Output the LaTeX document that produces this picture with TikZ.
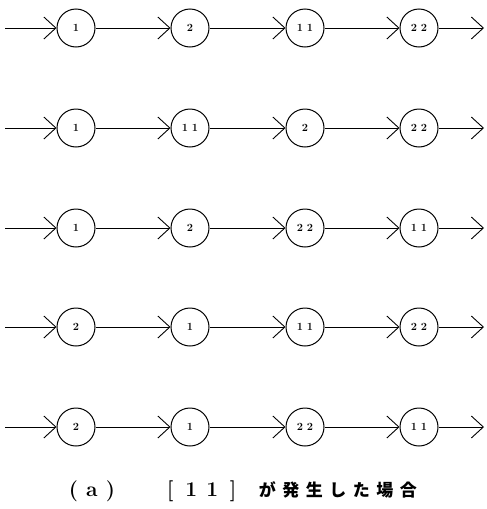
\documentclass[tikz,border=0pt]{standalone}
\usepackage{fontspec}
\newfontfamily\cjk{Noto Sans CJK JP}
\usetikzlibrary{arrows.meta}
\newcommand\cha[1]{\makebox[18.5pt]{#1}}
\newcommand\chb[1]{\makebox[21pt]{#1}}
\newcommand\chc[1]{\makebox[23.5pt]{\cjk\fontsize{17}{17}\selectfont #1}}
\begin{document}
\begin{tikzpicture}[x=1pt,y=-1pt,
  st/.style={circle,draw,line width=1pt,minimum size=38pt,inner sep=0pt,font=\bfseries\fontsize{11}{11}\selectfont},
  ar/.style={line width=0.9pt,-{Straight Barb[length=12pt,width=22pt,line width=0.9pt]}}]
\useasboundingbox (0,0) rectangle (487,509);
\foreach \r/\y/\a/\b/\c/\d in {1/28/1/2/1\,\,1/2\,\,2, 2/128/1/1\,\,1/2/2\,\,2, 3/228/1/2/2\,\,2/1\,\,1, 4/327/2/1/1\,\,1/2\,\,2, 5/427/2/1/2\,\,2/1\,\,1}{
  \coordinate (s\r) at (5,\y);
  \node[st] (n\r a) at (76,\y) {\a};
  \node[st] (n\r b) at (190,\y) {\b};
  \node[st] (n\r c) at (305,\y) {\c};
  \node[st] (n\r d) at (419,\y) {\d};
  \coordinate (e\r) at (484,\y);
  \draw[ar] (s\r) -- (n\r a);
  \draw[ar] (n\r a) -- (n\r b);
  \draw[ar] (n\r b) -- (n\r c);
  \draw[ar] (n\r c) -- (n\r d);
  \draw[ar] (n\r d) -- (e\r);
}
\node[anchor=west,inner sep=0pt,font=\bfseries\fontsize{21}{21}\selectfont] (cap) at (64,491)
  {\cha{(}\cha{a}\cha{)}\hspace{40pt}\chb{[}\chb{1}\chb{1}\chb{]}\hspace{12pt}\chc{が}\chc{発}\chc{生}\chc{し}\chc{た}\chc{場}\chc{合}};
\end{tikzpicture}
\end{document}
